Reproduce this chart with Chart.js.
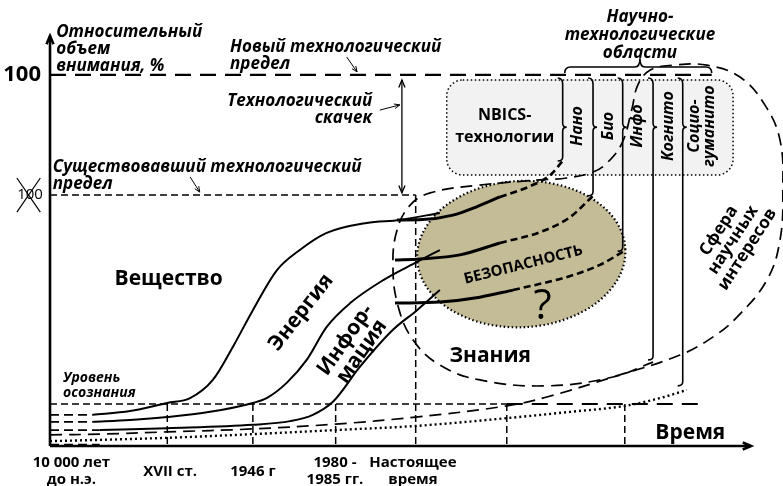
<!DOCTYPE html>
<html>
<head>
<meta charset="utf-8">
<script src="https://cdn.jsdelivr.net/npm/chart.js@4.4.1/dist/chart.umd.min.js"></script>
<style>
  html, body { margin: 0; background: #fff; }
  #wrap { width: 783px; height: 486px; }
</style>
</head>
<body>
<div id="wrap"><canvas id="c"></canvas></div>
<script>
// x: time (0 = 10 000 лет до н.э., 53 = настоящее время), y: относительный объем внимания, %
const NEW_LIMIT = 100;
const OLD_LIMIT = 67.6;
const AWARENESS = 11.3;
const PRESENT = 53.0;

const tickX = [17.0, 29.4, 41.4];
const futureTickX = [66.2, 83.3];
const tickLabels = [['10 000 лет', 'до н.э.'], ['XVII ст.'], ['1946 г'], ['1980 -', '1985 гг.'], ['Настоящее', 'время']];
const tickLabelX = [3.1, 17.4, 29.4, 41.3, 52.6];

// S-curves (solid, past)
const veschestvo = [[6.2, 8.4], [11.6, 9.4], [17.0, 11.6], [20.3, 12.9], [23.6, 17.8], [26.5, 26.7], [29.4, 36.6],
  [32.9, 47.4], [36.2, 52.8], [40.1, 57.4], [45.9, 60.1], [50.7, 60.9], [56.5, 62.8]];
const energiya = [[6.2, 6.5], [11.6, 7.0], [17.0, 7.8], [23.2, 9.2], [29.4, 11.6], [31.4, 12.9], [34.3, 17.0],
  [37.2, 23.2], [40.1, 32.1], [43.5, 38.5], [48.3, 44.7], [53.2, 49.6], [56.5, 52.8]];
const informaciya = [[7.2, 4.3], [17.0, 4.8], [29.4, 5.7], [34.8, 6.7], [38.1, 8.4], [41.0, 11.9], [44.9, 21.3],
  [49.7, 31.3], [53.2, 36.6], [56.5, 42.0]];

// continuation into the future: bold part, then dashed forecast up to the field brackets
const vNow = [[50.3, 60.9], [54.0, 61.0], [58.4, 62.2], [61.9, 64.5], [65.2, 67.1]];
const vForecast = [[65.2, 67.1], [69.6, 70.0], [72.5, 73.0], [74.3, 76.8]];
const eNow = [[50.0, 50.1], [53.6, 50.4], [59.4, 51.5], [65.2, 54.7]];
const eForecast = [[65.2, 54.7], [71.0, 57.6], [75.4, 61.7], [78.7, 67.4]];
const iNow = [[50.0, 38.5], [56.5, 38.8], [62.3, 40.1], [67.1, 42.0]];
const iForecast = [[67.1, 42.0], [75.4, 45.8], [79.7, 48.8], [83.2, 52.5]];

// starting dashes near the y-axis
const leadIns = [[[0, 8.4], [6.2, 8.4]], [[0, 6.5], [6.2, 6.5]], [[0, 4.3], [7.2, 4.3]], [[0, 0.35], [7.2, 0.35]]];

// lower dotted curve
const dotted = [[0, 1.3], [17.0, 2.2], [29.4, 3.2], [41.4, 4.3], [53.0, 5.4], [66.2, 7.5], [75.4, 9.2],
  [83.3, 10.8], [88.4, 12.9], [92.3, 15.1]];

// «Сфера научных интересов» / «Знания» outline
const sfera = [[0, 3.0], [7.2, 3.2], [17.0, 3.8], [29.4, 4.6], [41.4, 5.9], [53.0, 7.8], [66.2, 10.8], [72.0, 13.2],
  [81.6, 18.6], [91.3, 24.5], [96.1, 29.4], [99.6, 34.8], [103.9, 44.7], [105.8, 55.5], [106.2, 69.0],
  [105.8, 82.4], [103.6, 91.9], [100.0, 99.4], [95.2, 102.6], [90.3, 102.6], [87.0, 101.3], [85.2, 97.3],
  [84.3, 90.5], [82.9, 81.6], [80.7, 76.2], [78.7, 73.8], [74.9, 72.2], [71.0, 71.7], [62.3, 70.3],
  [55.1, 68.2], [52.2, 64.9], [50.3, 58.2], [49.7, 48.8], [50.4, 38.0], [52.6, 28.6], [56.5, 21.8],
  [62.3, 17.8], [72.0, 16.2], [81.6, 18.6], [87.4, 22.6]];

// field brackets: x position and lower end
const fieldX = [74.3, 78.7, 83.0, 87.4, 91.7];
const fieldBottom = [76.8, 67.4, 52.5, 23.2, 16.2];
const fieldNames = [['Нано'], ['Био'], ['Инфо'], ['Когнито'], ['Социо-', 'гуманито']];
const fieldLabelX = [76.5, 81.0, 85.2, 89.6, 94.5];

const pts = a => a.map(([x, y]) => ({ x, y }));

function line(data, opts) {
  return Object.assign({
    data: pts(data), borderColor: '#000', borderWidth: 1.6, pointRadius: 0,
    tension: 0, fill: false, clip: false
  }, opts);
}

const datasets = [
  line(veschestvo, { cubicInterpolationMode: 'monotone', borderWidth: 2 }),
  line(energiya, { cubicInterpolationMode: 'monotone', borderWidth: 2 }),
  line(informaciya, { cubicInterpolationMode: 'monotone', borderWidth: 2 }),
  line(vNow, { cubicInterpolationMode: 'monotone', borderWidth: 3 }),
  line(eNow, { cubicInterpolationMode: 'monotone', borderWidth: 3 }),
  line(iNow, { cubicInterpolationMode: 'monotone', borderWidth: 3 }),
  line(vForecast, { cubicInterpolationMode: 'monotone', borderWidth: 2.6, borderDash: [7, 4] }),
  line(eForecast, { cubicInterpolationMode: 'monotone', borderWidth: 2.6, borderDash: [7, 4] }),
  line(iForecast, { cubicInterpolationMode: 'monotone', borderWidth: 2.6, borderDash: [7, 4] }),
  ...leadIns.map(d => line(d, { borderDash: [9, 5], borderWidth: 1.7 })),
  line(dotted, { cubicInterpolationMode: 'monotone', borderDash: [2, 3], borderWidth: 2.4 }),
  line(sfera, { tension: 0.4, borderDash: [12, 7], borderWidth: 1.7 }),
  // limits and levels
  line([[0, NEW_LIMIT], [95.9, NEW_LIMIT]], { borderDash: [16, 9], borderWidth: 2.2 }),
  line([[0, OLD_LIMIT], [PRESENT, OLD_LIMIT]], { borderDash: [7, 4], borderWidth: 1.5 }),
  line([[PRESENT, OLD_LIMIT], [PRESENT, 0]], { borderDash: [7, 4], borderWidth: 1.5 }),
  line([[0, AWARENESS], [66.2, AWARENESS]], { borderDash: [7, 4], borderWidth: 1.5 }),
  line([[66.2, AWARENESS], [94.6, AWARENESS]], { borderDash: [16, 9], borderWidth: 1.9 }),
  ...tickX.concat(futureTickX).map(x => line([[x, AWARENESS], [x, 0]], { borderDash: [7, 4], borderWidth: 1.5 }))
];

const FONT = '"Open Sans", "DejaVu Sans", sans-serif';

const drawing = {
  id: 'drawing',
  beforeDatasetsDraw(chart) {
    const ctx = chart.ctx, X = v => chart.scales.x.getPixelForValue(v), Y = v => chart.scales.y.getPixelForValue(v);
    ctx.save();
    // NBICS box
    const bx0 = X(57.5), bx1 = X(99.0), by0 = Y(98.6), by1 = Y(73.0);
    ctx.beginPath();
    ctx.roundRect(bx0, by0, bx1 - bx0, by1 - by0, 16);
    ctx.fillStyle = '#f2f2f2';
    ctx.fill();
    ctx.setLineDash([1.5, 2.5]);
    ctx.lineWidth = 1.5;
    ctx.strokeStyle = '#000';
    ctx.stroke();
    // БЕЗОПАСНОСТЬ ellipse
    const cx = X(68.3), cy = Y(51.7);
    const rx = X(68.3 + 15.1) - cx, ry = cy - Y(51.7 + 19.7);
    ctx.beginPath();
    ctx.ellipse(cx, cy, rx, ry, -0.05, 0, Math.PI * 2);
    ctx.fillStyle = '#c4bb97';
    ctx.fill();
    ctx.setLineDash([1.5, 2.5]);
    ctx.lineWidth = 2.2;
    ctx.stroke();
    ctx.restore();
  },
  afterDatasetsDraw(chart) {
    const ctx = chart.ctx, X = v => chart.scales.x.getPixelForValue(v), Y = v => chart.scales.y.getPixelForValue(v);
    ctx.save();
    ctx.strokeStyle = '#000';
    ctx.fillStyle = '#000';
    ctx.setLineDash([]);

    const arrowHead = (x, y, ang, len) => {
      ctx.beginPath();
      ctx.moveTo(x - len * Math.cos(ang - 0.4), y - len * Math.sin(ang - 0.4));
      ctx.lineTo(x, y);
      ctx.lineTo(x - len * Math.cos(ang + 0.4), y - len * Math.sin(ang + 0.4));
      ctx.stroke();
    };
    const arrow = (x0, y0, x1, y1, w, len) => {
      ctx.lineWidth = w;
      ctx.beginPath(); ctx.moveTo(x0, y0); ctx.lineTo(x1, y1); ctx.stroke();
      arrowHead(x1, y1, Math.atan2(y1 - y0, x1 - x0), len);
    };

    // axes
    const ox = X(0), oy = Y(0);
    arrow(ox, oy, ox, Y(110.5), 2.6, 9);
    arrow(ox, oy, X(101.6), oy, 2.6, 9);

    // double arrow "технологический скачек"
    ctx.lineWidth = 1.3;
    const ax = X(51.0), ay0 = Y(98.6), ay1 = Y(68.2);
    ctx.beginPath(); ctx.moveTo(ax, ay0); ctx.lineTo(ax, ay1); ctx.stroke();
    arrowHead(ax, ay0, -Math.PI / 2, 8);
    arrowHead(ax, ay1, Math.PI / 2, 8);

    // pointer arrows
    arrow(X(43.0), Y(104.8), X(44.5), Y(100.8), 1, 6);
    arrow(X(47.8), Y(90.5), X(50.7), Y(91.9), 1, 6);
    arrow(X(20.3), Y(72.5), X(21.7), Y(68.4), 1, 6);

    // field brackets
    ctx.lineWidth = 1.6;
    const top = Y(98.6), mid = Y(85.9);
    fieldX.forEach((fx, i) => {
      const x = X(fx), b = Y(fieldBottom[i]);
      ctx.beginPath();
      ctx.moveTo(x - 5, top - 2);
      ctx.quadraticCurveTo(x, top - 2, x, top + 4);
      ctx.lineTo(x, mid - 4);
      ctx.quadraticCurveTo(x, mid, x + 4, mid);
      ctx.quadraticCurveTo(x, mid, x, mid + 4);
      ctx.lineTo(x, b - 4);
      ctx.quadraticCurveTo(x, b, x - 5, b);
      ctx.stroke();
    });
    // top brace over the fields
    const t0 = X(74.6), t1 = X(95.9), tp = X(85.5), tb = Y(100.5), th = Y(102.1), tk = Y(104.5);
    ctx.beginPath();
    ctx.moveTo(t0, tb);
    ctx.quadraticCurveTo(t0, th, t0 + 6, th);
    ctx.lineTo(tp - 5, th);
    ctx.quadraticCurveTo(tp, th, tp, tk);
    ctx.quadraticCurveTo(tp, th, tp + 5, th);
    ctx.lineTo(t1 - 6, th);
    ctx.quadraticCurveTo(t1, th, t1, tb);
    ctx.stroke();

    // text
    const txt = (lines, x, y, font, align, rot, gap) => {
      ctx.save();
      ctx.translate(X(x), Y(y));
      ctx.rotate((rot || 0) * Math.PI / 180);
      ctx.font = font + ' ' + FONT;
      ctx.textAlign = align || 'center';
      ctx.textBaseline = 'middle';
      const g = gap || 0;
      lines.forEach((s, k) => ctx.fillText(s, 0, (k - (lines.length - 1) / 2) * g));
      ctx.restore();
    };
    const bi = 'italic bold 17px';
    txt(['100'], -1.3, NEW_LIMIT, 'bold 22px', 'right');
    txt(['Относительный', 'объем', 'внимания, %'], 0.9, 107.0, bi, 'left', 0, 17);
    txt(['Новый технологический', 'предел'], 26.1, 105.1, bi, 'left', 0, 17);
    txt(['Технологический', 'скачек'], 46.7, 90.6, bi, 'right', 0, 17);
    txt(['Существовавший технологический', 'предел'], 0.4, 72.9, bi, 'left', 0, 17);
    txt(['100'], -2.9, OLD_LIMIT, '15px', 'center');
    ctx.lineWidth = 1.2;
    ctx.beginPath();
    ctx.moveTo(X(-4.8), Y(72.2)); ctx.lineTo(X(-1.4), Y(63.0));
    ctx.moveTo(X(-1.4), Y(72.2)); ctx.lineTo(X(-4.8), Y(63.0));
    ctx.stroke();
    txt(['Вещество'], 17.2, 45.0, 'bold 21px');
    txt(['Энергия'], 36.4, 36.0, 'bold 21px', 'center', -52);
    txt(['Инфор-', 'мация'], 44.0, 27.0, 'bold 21px', 'center', -55, 20);
    txt(['Уровень', 'осознания'], 1.9, 16.2, 'italic bold 14px', 'left', 0, 15);
    txt(['NBICS-', 'технологии'], 65.9, 86.0, 'bold 16px', 'center', 0, 22);
    fieldNames.forEach((n, i) => txt(n, fieldLabelX[i], 86.2, 'italic bold 16px', 'center', -90, 15));
    txt(['Научно-', 'технологические', 'области'], 85.5, 110.6, bi, 'center', 0, 18);
    txt(['БЕЗОПАСНОСТЬ'], 68.6, 48.8, 'bold 15px', 'center', -14);
    txt(['?'], 71.4, 37.4, '42px');
    txt(['Знания'], 63.8, 24.2, 'bold 21px');
    txt(['Сфера', 'научных', 'интересов'], 99.0, 55.5, 'bold 17px', 'center', -57, 17);
    txt(['Время'], 92.8, 3.6, 'bold 21px');
    tickLabels.forEach((l, i) => txt(l, tickLabelX[i], l.length > 1 ? -6.9 : -7.0, 'bold 15px', 'center', 0, 17));
    ctx.restore();
  }
};

new Chart(document.getElementById('c'), {
  type: 'line',
  data: { datasets },
  options: {
    responsive: true,
    maintainAspectRatio: false,
    animation: false,
    events: [],
    layout: { padding: { left: 50, right: 43, top: 34, bottom: 40 } },
    elements: { line: { capBezierPoints: false } },
    plugins: { legend: { display: false }, tooltip: { enabled: false } },
    scales: {
      x: { type: 'linear', min: 0, max: 100, display: false },
      y: { type: 'linear', min: 0, max: 111, display: false }
    }
  },
  plugins: [drawing]
});
</script>
</body>
</html>
